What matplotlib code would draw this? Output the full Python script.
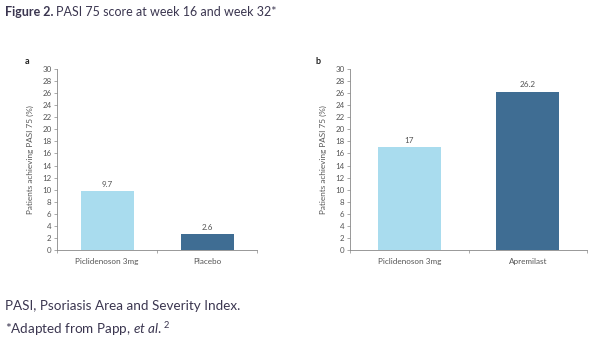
import matplotlib

matplotlib.use("Agg")
import matplotlib.pyplot as plt

# data
cats_a = ["Piclidenoson 3mg", "Placebo"]
vals_a = [9.7, 2.6]
cats_b = ["Piclidenoson 3mg", "Apremilast"]
vals_b = [17, 26.2]
yticks = list(range(0, 31, 2))

light = "#a9dcee"
dark = "#3f6d93"
text_col = "#555555"
note_col = "#3b3650"

plt.rcParams["font.family"] = ["Lato", "DejaVu Sans"]
plt.rcParams["mathtext.fontset"] = "custom"
plt.rcParams["mathtext.rm"] = "Lato"
plt.rcParams["mathtext.it"] = "Lato:italic"
plt.rcParams["mathtext.bf"] = "Lato:bold"

fig = plt.figure(figsize=(6.0, 3.41), dpi=100)
W, H = 600, 341


def _axes(x0, x1, y0, y1):
    return fig.add_axes([x0 / W, 1 - y1 / H, (x1 - x0) / W, (y1 - y0) / H])


def _panel(ax, cats, vals, letter, lx):
    xs = list(range(len(cats)))
    ax.bar(xs, vals, width=0.53, color=[light, dark])
    for x, v in zip(xs, vals):
        ax.text(x, v + 0.6, f"{v:g}", ha="center", va="bottom", fontsize=5.9, color=text_col)
    ax.set_xlim(-0.5, len(cats) - 0.5)
    ax.set_ylim(0, 30)
    ax.set_yticks(yticks)
    ax.set_xticks([i - 0.5 for i in range(len(cats) + 1)], minor=False)
    ax.set_xticklabels([""] * (len(cats) + 1))
    ax.set_xticks(xs, minor=True)
    ax.set_xticklabels(cats, minor=True)
    ax.tick_params(axis="x", which="minor", length=0, pad=6, labelsize=5.9, labelcolor=text_col)
    ax.tick_params(axis="x", which="major", length=2, width=0.5, color="#888888")
    ax.tick_params(axis="y", length=2, width=0.5, color="#888888", labelsize=5.7,
                   labelcolor=text_col, pad=2)
    for side in ("top", "right"):
        ax.spines[side].set_visible(False)
    for side in ("left", "bottom"):
        ax.spines[side].set_color("#888888")
        ax.spines[side].set_linewidth(0.6)
    ax.set_ylabel("Patients achieving PASI 75 (%)", fontsize=5.9, color=text_col, labelpad=6)
    fig.text(lx / W, 1 - 62 / H, letter, fontsize=6.5, fontweight="bold", color="#222222",
             ha="left", va="center")


ax_a = _axes(57, 257, 69, 250)
_panel(ax_a, cats_a, vals_a, "a", 25)
ax_b = _axes(350, 587, 69, 250)
_panel(ax_b, cats_b, vals_b, "b", 316)

head = fig.text(5 / W, 1 - 12 / H, "Figure 2.", fontsize=9, fontweight="bold",
                color=note_col, ha="left", va="center")
fig.canvas.draw()
bb = head.get_window_extent()
fig.text((bb.x1 + 3) / W, 1 - 12 / H, "PASI 75 score at week 16 and week 32*",
         fontsize=9, color=note_col, ha="left", va="center")
fig.text(5 / W, 1 - 306 / H, "PASI, Psoriasis Area and Severity Index.", fontsize=9.7,
         color=note_col, ha="left", va="center")
fig.text(5 / W, 1 - 329 / H, r"*Adapted from Papp, $\it{et\ al.}^{2}$", fontsize=9.7,
         color=note_col, ha="left", va="center")

fig.savefig("out.png", dpi=100, facecolor="white")
